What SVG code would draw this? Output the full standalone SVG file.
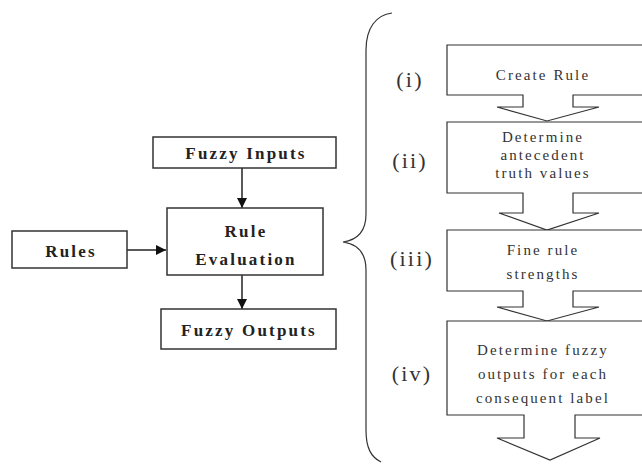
<svg xmlns="http://www.w3.org/2000/svg" width="642" height="464" viewBox="0 0 642 464">
<style>
.lbox{fill:#fff;stroke:#333;stroke-width:1.5}
.rbox{fill:#fff;stroke:#333;stroke-width:1.2;stroke-linejoin:miter}
.bt{font-family:"Liberation Serif","Times New Roman",serif;font-weight:bold;font-size:17px;letter-spacing:2.2px;fill:#222;text-anchor:middle}
.rt{font-family:"Liberation Serif","Times New Roman",serif;font-size:15px;letter-spacing:2.1px;fill:#333;text-anchor:middle}
.num{font-family:"Liberation Serif","Times New Roman",serif;font-size:22px;letter-spacing:2.2px;fill:#333;text-anchor:middle}
.conn{stroke:#222;stroke-width:1.5;fill:none}
</style>
<defs>
<marker id="ah" markerWidth="10" markerHeight="10" refX="10" refY="5" orient="auto" markerUnits="userSpaceOnUse">
<path d="M0,0 L10,5 L0,10 Z" fill="#111"/>
</marker>
</defs>
<rect width="642" height="464" fill="#fff"/>
<g id="connectors">
<line class="conn" x1="127" y1="250" x2="166" y2="250" marker-end="url(#ah)"/>
<line class="conn" x1="242" y1="168" x2="242" y2="208" marker-end="url(#ah)"/>
<line class="conn" x1="242" y1="275" x2="242" y2="309" marker-end="url(#ah)"/>
</g>
<g id="rules">
<rect class="lbox" x="12" y="231" width="115" height="37"/>
<text class="bt" x="71" y="257">Rules</text>
</g>
<g id="fuzzy-inputs">
<rect class="lbox" x="153" y="137" width="183" height="31"/>
<text class="bt" x="246" y="159">Fuzzy Inputs</text>
</g>
<g id="rule-evaluation">
<rect class="lbox" x="167" y="208" width="156" height="67"/>
<text class="bt" x="246" y="237">Rule</text>
<text class="bt" x="246" y="265">Evaluation</text>
</g>
<g id="fuzzy-outputs">
<rect class="lbox" x="161" y="309" width="175" height="40"/>
<text class="bt" x="249" y="336">Fuzzy Outputs</text>
</g>
<g id="brace">
<path d="M392,13 C376,15 366,28 366,50 L366,214 C366,232 357,240 343,242 C357,244 366,252 366,270 L366,430 C366,448 371,457 381,462" fill="none" stroke="#333" stroke-width="1.2"/>
</g>
<g id="step-i">
<path class="rbox" d="M447,45 H650 V95 H573 V107 H599 L547,121 L497,107 H523 V95 H447 Z"/>
<text class="num" x="410" y="87">(i)</text>
<text class="rt" x="543" y="80">Create Rule</text>
</g>
<g id="step-ii">
<path class="rbox" d="M447,122 H650 V193 H573 V213 H599 L547,230 L499,213 H523 V193 H447 Z"/>
<text class="num" x="410" y="168">(ii)</text>
<text class="rt" x="543" y="142">Determine</text>
<text class="rt" x="543" y="160">antecedent</text>
<text class="rt" x="543" y="178">truth values</text>
</g>
<g id="step-iii">
<path class="rbox" d="M447,230 H650 V291 H573 V307 H599 L547,321 L497,307 H523 V291 H447 Z"/>
<text class="num" x="412" y="266">(iii)</text>
<text class="rt" x="543" y="255">Fine rule</text>
<text class="rt" x="543" y="279">strengths</text>
</g>
<g id="step-iv">
<path class="rbox" d="M447,321 H650 V415 H575 V438 H600 L550,460 L497,438 H524 V415 H447 Z"/>
<text class="num" x="412" y="381">(iv)</text>
<text class="rt" x="543" y="355">Determine fuzzy</text>
<text class="rt" x="543" y="379">outputs for each</text>
<text class="rt" x="543" y="403">consequent label</text>
</g>
</svg>
